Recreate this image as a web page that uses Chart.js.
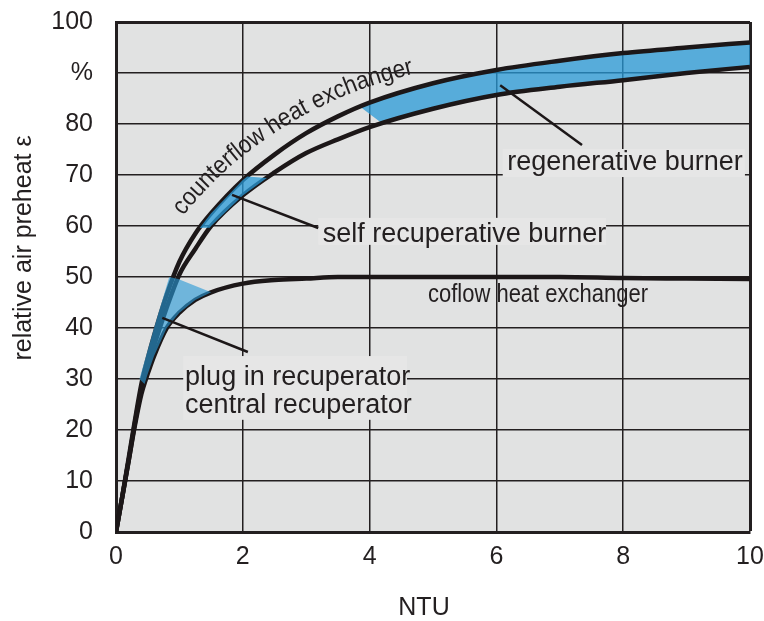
<!DOCTYPE html>
<html>
<head>
<meta charset="utf-8">
<script src="https://cdn.jsdelivr.net/npm/chart.js@4.4.1/dist/chart.umd.min.js"></script>
<style>
html,body{margin:0;padding:0;background:#fff;}
</style>
</head>
<body>
<canvas id="chart" width="764" height="621"></canvas>
<script>

// NTU values where the curves were read
const ntu = [0,0.1,0.2,0.3,0.4,0.5,0.6,0.8,1,1.25,1.5,2,2.5,3,3.5,4,5,6,7,8,9,10];
// upper curve: counterflow heat exchanger
const counterflow = [0,7,14.5,22,29,34,38.5,46.5,53,58.5,62.5,69,74,78.2,81.5,84.2,88,90.6,92.4,93.9,95,96];
// lower curve bounding the burner bands
const burnerLow = [0,7,14,21.5,28,32.5,36.5,44,50.5,55.5,60,66,70.5,74.3,77,79.4,83,85.7,87.3,88.6,90,91.2];
// coflow heat exchanger
const coflow = [0,7,14,21,27,31,34.5,40,43,45.5,47,48.7,49.4,49.7,50,50,50,50,50,49.8,49.7,49.6];

const xTicks = [0,2,4,6,8,10];
const yTicks = [0,10,20,30,40,50,60,70,80,90,100];
const yTickText = ["0","10","20","30","40","50","60","70","80","%","100"];

// where the blue bands start / end (NTU on upper curve, NTU on lower curve)
const regenStart = [3.85, 4.2];
const selfStart = [1.32, 1.48];
const selfEnd = [2.07, 2.38];
// plug in recuperator area: left edge, then back along coflow curve
const plugEdgeX = [0.37, 0.6, 0.84, 0.98];
const plugEdgeY = [30, 40, 50, 49.6];
const plugCoflow = [0.45, 1.5];

const FONT = "'Liberation Sans', Arial, sans-serif";
const INK = "#231f20";

function valueAt(xs, ys, v){
for(let i=0;i<xs.length-1;i++){
if(v>=xs[i] && v<=xs[i+1]){
const t=(v-xs[i])/(xs[i+1]-xs[i]);
return ys[i]+t*(ys[i+1]-ys[i]);
}
}
return ys[ys.length-1];
}

function part(xs, ys, a, b){
const pts=[{x:a,y:valueAt(xs,ys,a)}];
xs.forEach((x,i)=>{ if(x>a && x<b) pts.push({x:x,y:ys[i]}); });
pts.push({x:b,y:valueAt(xs,ys,b)});
return pts;
}

const regenBand = part(ntu,counterflow,regenStart[0],10).concat(part(ntu,burnerLow,regenStart[1],10).reverse());
const selfBand = part(ntu,counterflow,selfStart[0],selfEnd[0]).concat(part(ntu,burnerLow,selfStart[1],selfEnd[1]).reverse());
const plugBand = plugEdgeX.map((x,i)=>({x:x,y:plugEdgeY[i]})).concat(part(ntu,coflow,plugCoflow[0],plugCoflow[1]).reverse());

function curve(values){
return {
data: ntu.map((x,i)=>({x:x,y:values[i]})),
borderColor:"#1c1718",
borderWidth:4.5,
pointRadius:0,
fill:false,
cubicInterpolationMode:"monotone",
order:2
};
}

function band(points, color, order){
return {
data: points,
backgroundColor: color,
borderWidth:0,
pointRadius:0,
tension:0,
fill:"shape",
order:order
};
}

// label boxes and leader lines, in data units
const notes = [
{ lines:["regenerative burner"], x:6.17, base:[71.0], box:[6.10,75.1,9.92,69.6], lead:[6.06,87.6,7.35,75.9] },
{ lines:["self recuperative burner"], x:3.26, base:[56.9], box:[3.19,61.6,7.73,56.3], lead:[1.83,66.1,3.19,59.6] },
{ lines:["plug in recuperator","central recuperator"], x:1.09, base:[28.8,23.3], box:[1.06,34.5,4.59,22.0], lead:[0.73,42.0,2.08,35.3] }
];

const plotBg = {
id:"plotBg",
beforeDraw(chart){
const a=chart.chartArea, ctx=chart.ctx;
ctx.save();
ctx.fillStyle="#e1e2e2";
ctx.fillRect(a.left,a.top,a.right-a.left,a.bottom-a.top);
ctx.restore();
}
};

function curvePixels(meta){
const pts=meta.data, out=[];
for(let i=0;i<pts.length-1;i++){
const a=pts[i], b=pts[i+1];
const c1x=a.cp2x ?? a.x, c1y=a.cp2y ?? a.y, c2x=b.cp1x ?? b.x, c2y=b.cp1y ?? b.y;
for(let k=0;k<16;k++){
const t=k/16, u=1-t;
out.push({
x:u*u*u*a.x+3*u*u*t*c1x+3*u*t*t*c2x+t*t*t*b.x,
y:u*u*u*a.y+3*u*u*t*c1y+3*u*t*t*c2y+t*t*t*b.y
});
}
}
out.push({x:pts[pts.length-1].x,y:pts[pts.length-1].y});
return out;
}

function textOnCurve(ctx, text, path, startX, d0, d1, sx){
const seg=path.slice(path.findIndex(p=>p.x>=startX));
const total=ctx.measureText(text).width*sx;
const off=[];
let s=0;
for(let i=0;i<seg.length;i++){
const q=seg[Math.min(i+1,seg.length-1)], r=seg[Math.max(i-1,0)];
let tx=q.x-r.x, ty=q.y-r.y;
const L=Math.hypot(tx,ty)||1; tx/=L; ty/=L;
if(i>0) s+=Math.hypot(seg[i].x-seg[i-1].x,seg[i].y-seg[i-1].y);
const f=Math.min(s/total,1);
const d=d0+(d1-d0)*f;
off.push({x:seg[i].x+ty*d,y:seg[i].y-tx*d});
}
const cum=[0];
for(let i=1;i<off.length;i++) cum.push(cum[i-1]+Math.hypot(off[i].x-off[i-1].x,off[i].y-off[i-1].y));
function at(v){
let j=0;
while(j<cum.length-2 && cum[j+1]<v) j++;
const t=(v-cum[j])/((cum[j+1]-cum[j])||1);
return {x:off[j].x+t*(off[j+1].x-off[j].x), y:off[j].y+t*(off[j+1].y-off[j].y)};
}
let pos=0;
ctx.textAlign="center";
ctx.textBaseline="alphabetic";
for(const ch of text){
const w=ctx.measureText(ch).width*sx;
const c=pos+w/2;
const p=at(c), p1=at(Math.max(c-5,0)), p2=at(c+5);
const ang=Math.atan2(p2.y-p1.y,p2.x-p1.x);
ctx.save();
ctx.translate(p.x,p.y);
ctx.rotate(ang);
ctx.scale(sx,1);
ctx.fillText(ch,0,0);
ctx.restore();
pos+=w;
}
}

const annotate = {
id:"annotate",
afterDatasetsDraw(chart){
const ctx=chart.ctx, x=chart.scales.x, y=chart.scales.y;
ctx.save();

notes.forEach(n=>{
const bx=x.getPixelForValue(n.box[0]), by=y.getPixelForValue(n.box[1]);
const bw=x.getPixelForValue(n.box[2])-bx, bh=y.getPixelForValue(n.box[3])-by;
ctx.fillStyle="#e6e6e6";
ctx.fillRect(bx,by,bw,bh);
ctx.strokeStyle="#1c1718";
ctx.lineWidth=2.5;
ctx.beginPath();
ctx.moveTo(x.getPixelForValue(n.lead[0]),y.getPixelForValue(n.lead[1]));
ctx.lineTo(x.getPixelForValue(n.lead[2]),y.getPixelForValue(n.lead[3]));
ctx.stroke();
ctx.fillStyle=INK;
ctx.font="27px "+FONT;
ctx.textAlign="left";
ctx.textBaseline="alphabetic";
n.lines.forEach((t,i)=>ctx.fillText(t,x.getPixelForValue(n.x),y.getPixelForValue(n.base[i])));
});

// coflow label (condensed)
ctx.font="25px "+FONT;
ctx.fillStyle=INK;
ctx.save();
ctx.translate(x.getPixelForValue(4.92),y.getPixelForValue(45.1));
ctx.scale(0.88,1);
ctx.textAlign="left";
ctx.fillText("coflow heat exchanger",0,0);
ctx.restore();

// counterflow label following the upper curve
const path=curvePixels(chart.getDatasetMeta(0));
textOnCurve(ctx,"counterflow heat exchanger",path,x.getPixelForValue(1.31),20,14,0.9);

// axis titles
ctx.fillStyle=INK;
ctx.font="25px "+FONT;
ctx.textAlign="center";
ctx.textBaseline="middle";
ctx.fillText("NTU",424,608);
ctx.save();
ctx.translate(24,248);
ctx.rotate(-Math.PI/2);
ctx.fillText("relative air preheat \u03b5",0,0);
ctx.restore();

ctx.restore();
}
};

new Chart(document.getElementById("chart"),{
type:"line",
data:{
datasets:[
curve(counterflow),
curve(burnerLow),
curve(coflow),
band(regenBand,"rgba(40,154,215,0.75)",3),
band(selfBand,"rgba(40,154,215,0.75)",1),
band(plugBand,"rgba(40,154,215,0.62)",1)
]
},
options:{
responsive:false,
animation:false,
layout:{autoPadding:false,padding:{top:22,right:14,left:0,bottom:0}},
plugins:{
legend:{display:false},
tooltip:{enabled:false},
filler:{drawTime:"beforeDatasetDraw"}
},
scales:{
x:{
type:"linear",
min:0,max:10,
afterBuildTicks:s=>{ s.ticks=xTicks.map(v=>({value:v})); },
afterFit:s=>{ s.height=89; s.paddingLeft=0; s.paddingRight=0; },
grid:{color:INK,lineWidth:c=>(c.tick && c.tick.value===10)?3:1.5,drawTicks:true,tickLength:10,tickColor:"rgba(0,0,0,0)"},
border:{display:true,color:INK,width:3},
ticks:{font:{family:FONT,size:25},color:INK,padding:0,maxRotation:0}
},
y:{
type:"linear",
min:0,max:100,
afterBuildTicks:s=>{ s.ticks=yTicks.map(v=>({value:v})); },
afterFit:s=>{ s.width=116; s.paddingTop=0; s.paddingBottom=0; },
grid:{color:INK,lineWidth:c=>(c.tick && c.tick.value===100)?3:1.5,drawTicks:true,tickLength:23,tickColor:"rgba(0,0,0,0)"},
border:{display:true,color:INK,width:3},
ticks:{font:{family:FONT,size:25},color:INK,padding:0,callback:v=>yTickText[yTicks.indexOf(v)]}
}
}
},
plugins:[plotBg,annotate]
});

</script>
</body>
</html>
